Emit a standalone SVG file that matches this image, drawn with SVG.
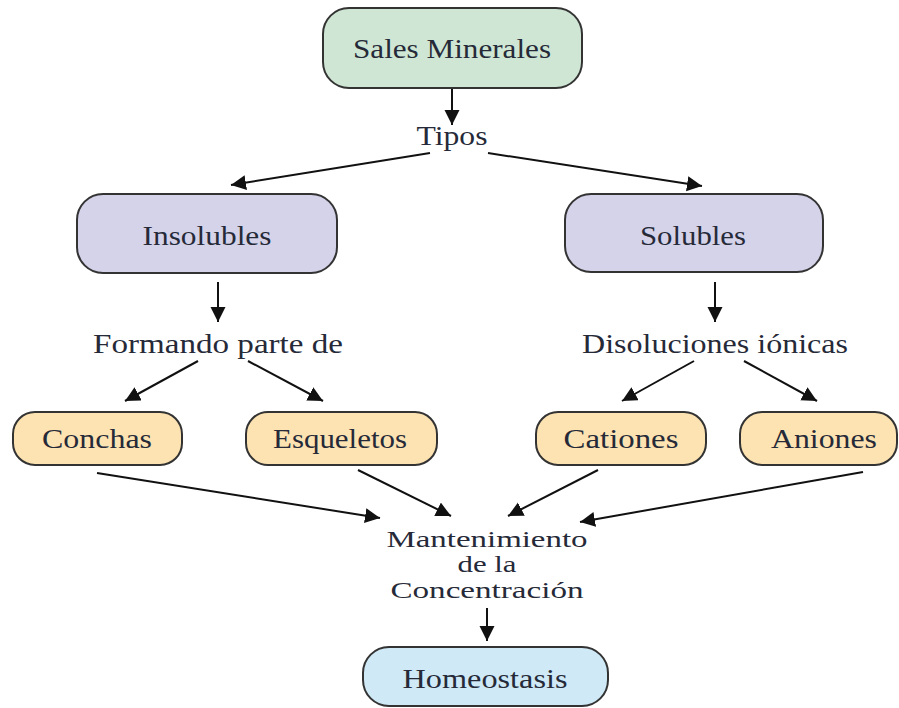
<svg xmlns="http://www.w3.org/2000/svg" width="899" height="708" viewBox="0 0 899 708">
<defs>
<marker id="ah" markerUnits="userSpaceOnUse" markerWidth="16" markerHeight="16" refX="15" refY="7.5" orient="auto">
<path d="M0,0 L15,7.5 L0,15 Z" fill="#111"/>
</marker>
<style>
.box{stroke:#333;stroke-width:2}
.t{font-family:"Liberation Serif","DejaVu Serif",serif;font-size:27px;fill:#262a38;text-anchor:middle}
.m{font-size:24px}
.c{stroke:#111;stroke-width:2;fill:none;marker-end:url(#ah)}
.green{fill:#cfe6d4}
.purple{fill:#d4d3ea}
.orange{fill:#fde3b2}
.blue{fill:#cfe9f7}
</style>
</defs>
<rect width="899" height="708" fill="#fff"/>
<g id="connectors">
<line class="c" x1="452" y1="88" x2="452" y2="125"/>
<line class="c" x1="430" y1="153" x2="231" y2="185"/>
<line class="c" x1="488" y1="153" x2="702" y2="186"/>
<line class="c" x1="218" y1="282" x2="218" y2="322"/>
<line class="c" x1="715" y1="282" x2="715" y2="322"/>
<line class="c" x1="198" y1="361" x2="125" y2="401"/>
<line class="c" x1="248" y1="361" x2="323" y2="401"/>
<line class="c" x1="694" y1="361" x2="622" y2="401"/>
<line class="c" x1="744" y1="361" x2="817" y2="401"/>
<line class="c" x1="97" y1="473" x2="380" y2="518"/>
<line class="c" x1="358" y1="470" x2="451" y2="516"/>
<line class="c" x1="598" y1="470" x2="508" y2="516"/>
<line class="c" x1="863" y1="472" x2="580" y2="522"/>
<line class="c" x1="487" y1="608" x2="487" y2="641"/>
</g>
<g id="sales-minerales">
<rect class="box green" x="323" y="8" width="259" height="80" rx="26"/>
<text class="t" x="452" y="58" textLength="198" lengthAdjust="spacingAndGlyphs">Sales Minerales</text>
</g>
<g id="tipos">
<text class="t" x="452" y="145" textLength="71" lengthAdjust="spacingAndGlyphs">Tipos</text>
</g>
<g id="insolubles">
<rect class="box purple" x="77" y="194" width="260" height="79" rx="26"/>
<text class="t" x="207" y="245" textLength="129" lengthAdjust="spacingAndGlyphs">Insolubles</text>
</g>
<g id="solubles">
<rect class="box purple" x="565" y="194" width="258" height="78" rx="26"/>
<text class="t" x="693" y="245" textLength="106" lengthAdjust="spacingAndGlyphs">Solubles</text>
</g>
<g id="formando">
<text class="t" x="218" y="353" textLength="250" lengthAdjust="spacingAndGlyphs">Formando parte de</text>
</g>
<g id="disoluciones">
<text class="t" x="715" y="353" textLength="266" lengthAdjust="spacingAndGlyphs">Disoluciones iónicas</text>
</g>
<g id="conchas">
<rect class="box orange" x="13" y="412" width="169" height="53" rx="22"/>
<text class="t" x="97" y="448" textLength="110" lengthAdjust="spacingAndGlyphs">Conchas</text>
</g>
<g id="esqueletos">
<rect class="box orange" x="246" y="412" width="191" height="53" rx="22"/>
<text class="t" x="340" y="448" textLength="134" lengthAdjust="spacingAndGlyphs">Esqueletos</text>
</g>
<g id="cationes">
<rect class="box orange" x="536" y="412" width="170" height="53" rx="22"/>
<text class="t" x="621" y="448" textLength="115" lengthAdjust="spacingAndGlyphs">Cationes</text>
</g>
<g id="aniones">
<rect class="box orange" x="740" y="412" width="157" height="53" rx="22"/>
<text class="t" x="824" y="448" textLength="106" lengthAdjust="spacingAndGlyphs">Aniones</text>
</g>
<g id="mantenimiento">
<text class="t m" x="487" y="547" textLength="201" lengthAdjust="spacingAndGlyphs">Mantenimiento</text>
<text class="t m" x="487" y="572" textLength="59" lengthAdjust="spacingAndGlyphs">de la</text>
<text class="t m" x="487" y="598" textLength="193" lengthAdjust="spacingAndGlyphs">Concentración</text>
</g>
<g id="homeostasis">
<rect class="box blue" x="363" y="647" width="245" height="59" rx="26"/>
<text class="t" x="485" y="688" textLength="165" lengthAdjust="spacingAndGlyphs">Homeostasis</text>
</g>
</svg>
